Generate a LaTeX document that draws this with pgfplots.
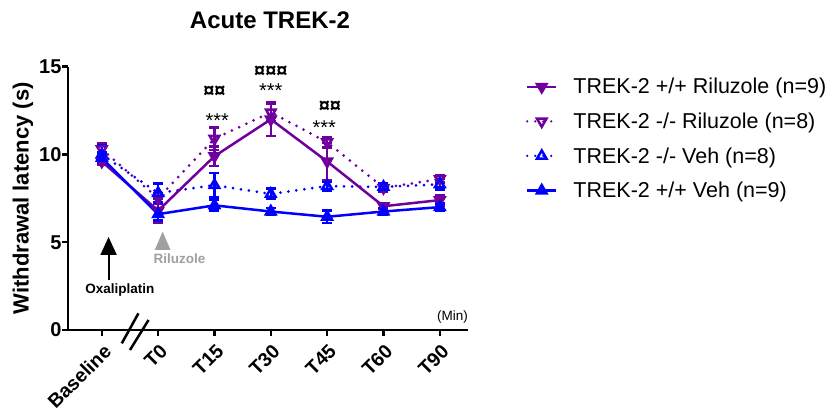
\documentclass[border=0pt]{standalone}
\usepackage{pgfplots}
\pgfplotsset{compat=1.18}
\usepackage{pgfplotstable}
\usetikzlibrary{arrows.meta}
\usepackage{fontspec}
\setmainfont{Liberation Sans}
\definecolor{rpurple}{RGB}{112,0,158}
\definecolor{rblue}{RGB}{0,0,255}
\definecolor{rgray}{RGB}{160,160,160}

\pgfplotstableread{
x y e
0 9.6 0.2
1 6.8 0.7
2 9.9 0.55
3 12.0 0.95
4 9.6 1.05
5 7.05 0.15
6 7.4 0.3
}\wtRil
\pgfplotstableread{
x y e
0 10.3 0.35
1 7.5 0.3
2 10.9 0.65
3 12.4 0.5
4 10.7 0.3
5 8.1 0.2
6 8.6 0.2
}\koRil
\pgfplotstableread{
x y e
0 10.0 0.5
1 7.8 0.55
2 8.25 0.7
3 7.75 0.3
4 8.2 0.25
5 8.15 0.2
6 8.3 0.3
}\koVeh
\pgfplotstableread{
x y e
0 9.8 0.3
1 6.6 0.35
2 7.1 0.3
3 6.75 0.2
4 6.45 0.35
5 6.75 0.2
6 7.0 0.2
}\wtVeh

\pgfplotsset{
  errstyle/.style={
    error bars/.cd, y dir=both, y explicit,
    error bar style={line width=2.5pt, solid, line cap=butt},
    error mark options={rotate=90, mark size=5pt, line width=2.5pt, solid},
    /pgfplots/.cd,
  },
}

\begin{document}
\begin{tikzpicture}
\useasboundingbox (0,0) rectangle (828pt,415pt);
\begin{axis}[
  at={(68pt,85pt)}, anchor=south west,
  scale only axis, width=400pt, height=263.3pt,
  xmin=-0.6, xmax=6.5, ymin=0, ymax=15,
  clip=false,
  axis x line*=bottom, axis y line*=left,
  axis line style={line width=2.5pt, -},
  xtick={0,...,6},
  xticklabels={Baseline,T0,T15,T30,T45,T60,T90},
  ytick={0,5,10,15},
  tick align=outside, major tick length=6pt,
  tick style={line width=2.5pt, black},
  /pgf/number format/assume math mode=true,
  yticklabel style={font=\bfseries\fontsize{20}{20}\selectfont, xshift=3pt},
  xticklabel style={font=\bfseries\fontsize{19.5}{19.5}\selectfont, rotate=45, anchor=north east, xshift=-1pt, yshift=-2pt},
  ylabel={Withdrawal latency (s)},
  ylabel style={font=\bfseries\fontsize{22}{22}\selectfont, at={(axis description cs:-0.1125,0.5)}, anchor=center},
  title={Acute TREK-2},
  title style={font=\bfseries\fontsize{24}{24}\selectfont, at={(axis description cs:0.505,1.152)}, anchor=center},
  legend style={at={(axis description cs:1.137,0.972)}, anchor=north west, draw=none, fill=none,
    font=\fontsize{21.5}{21.5}\selectfont, row sep=13.5pt,
    /tikz/every odd column/.append style={column sep=14pt}},
  legend cell align=left,
  legend image code/.code={\draw[mark repeat=2,mark phase=2,#1] plot coordinates {(0pt,0pt) (14.5pt,0pt) (29pt,0pt)};},
]
% dotted series
\addplot[forget plot, rpurple, line width=3pt, dash pattern=on 0pt off 8pt, line cap=round,
  mark=triangle, mark size=5.5pt, mark options={solid, rotate=180, fill=white, line width=2.5pt}, errstyle]
  table[x=x, y=y, y error=e] {\koRil};
\addplot[forget plot, rblue, line width=3pt, dash pattern=on 0pt off 8pt, line cap=round,
  mark=triangle, mark size=5.5pt, mark options={solid, fill=white, line width=2.5pt}, errstyle]
  table[x=x, y=y, y error=e] {\koVeh};
% solid series
\addplot[forget plot, rpurple, line width=2.5pt,
  mark=triangle*, mark size=5.5pt, mark options={solid, rotate=180}, errstyle]
  table[x=x, y=y, y error=e] {\wtRil};
\addplot[forget plot, rblue, line width=2.5pt,
  mark=triangle*, mark size=5.5pt, mark options={solid}, errstyle]
  table[x=x, y=y, y error=e] {\wtVeh};

\addlegendimage{rpurple, line width=2.5pt, mark=triangle*, mark size=5.5pt, mark options={solid, rotate=180}}
\addlegendentry{TREK-2 +/+ Riluzole (n=9)}
\addlegendimage{rpurple, line width=2.5pt, dash pattern=on 0pt off 8pt, line cap=round, mark=triangle, mark size=5.5pt, mark options={solid, rotate=180, fill=white, line width=2.5pt}}
\addlegendentry{TREK-2 -/- Riluzole (n=8)}
\addlegendimage{rblue, line width=2.5pt, dash pattern=on 0pt off 8pt, line cap=round, mark=triangle, mark size=5.5pt, mark options={solid, fill=white, line width=2.5pt}}
\addlegendentry{TREK-2 -/- Veh (n=8)}
\addlegendimage{rblue, line width=2.5pt, mark=triangle*, mark size=5.5pt, mark options={solid}}
\addlegendentry{TREK-2 +/+ Veh (n=9)}

% axis break
\draw[line width=2.5pt] (axis cs:0.355,-0.76) -- (axis cs:0.65,0.95);
\draw[line width=2.5pt] (axis cs:0.50,-1.14) -- (axis cs:0.83,0.57);

% annotations
\draw[line width=2pt, -{Triangle[width=16pt,length=18pt]}] (axis cs:0.12,2.85) -- (axis cs:0.12,5.3);
\node[font=\bfseries\fontsize{13.5}{14}\selectfont] at (axis cs:0.32,2.28) {Oxaliplatin};
\fill[rgray] (axis cs:0.94,4.56) -- (axis cs:1.22,4.56) -- (axis cs:1.08,5.6) -- cycle;
\node[font=\bfseries\fontsize{13.5}{14}\selectfont, text=rgray] at (axis cs:1.38,4.08) {Riluzole};
\node[anchor=east, inner sep=0pt, font=\fontsize{13.5}{14}\selectfont] at (axis cs:6.5,0.76) {(Min)};

\node[font=\fontsize{20}{20}\selectfont] at (axis cs:2.05,11.9) {***};
\node[font=\bfseries\fontsize{20}{20}\selectfont] at (axis cs:2.0,13.55) {¤¤};
\node[font=\fontsize{20}{20}\selectfont] at (axis cs:3.0,13.65) {***};
\node[font=\bfseries\fontsize{20}{20}\selectfont] at (axis cs:3.0,14.7) {¤¤¤};
\node[font=\fontsize{20}{20}\selectfont] at (axis cs:3.95,11.55) {***};
\node[font=\bfseries\fontsize{20}{20}\selectfont] at (axis cs:4.05,12.75) {¤¤};
\end{axis}
\end{tikzpicture}
\end{document}
